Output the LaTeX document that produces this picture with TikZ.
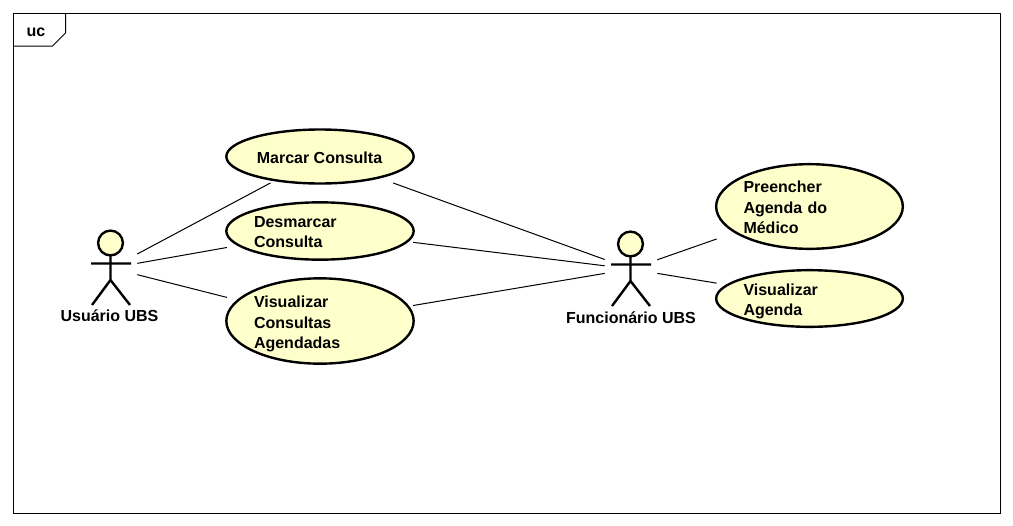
\documentclass[tikz,border=0pt]{standalone}
\usepackage{fontspec}
\setmainfont{Liberation Sans}
\usetikzlibrary{fit,shapes.geometric}
\definecolor{ucfill}{RGB}{255,255,204}
\tikzset{
  x=0.75pt,y=-0.75pt,
  labeltext/.style={font=\bfseries\fontsize{12pt}{15.4pt}\selectfont,inner sep=0pt},
  casetext/.style={labeltext,align=left,text width=99pt},
  usecase/.style={ellipse,draw=black,fill=ucfill,line width=1.8pt,inner sep=0pt},
  hitbox/.style={rectangle,draw=none,fill=none,inner sep=-1.5pt},
  actorbox/.style={rectangle,draw=none,fill=none,inner sep=0pt,minimum width=39pt,minimum height=57pt},
  assoc/.style={draw=black,line width=0.75pt},
  frameline/.style={draw=black,line width=0.75pt},
  pics/actorfig/.style={code={
    \draw[line width=1.8pt,fill=ucfill] (-0.5,-25) circle[radius=9.3pt];
    \draw[line width=1.8pt]
      (-0.5,-13) -- (-0.5,12)
      (-20,-4.5) -- (20,-4.5)
      (-19,37) -- (-0.5,12) -- (19,37);
  }}
}
\begin{document}
\begin{tikzpicture}
\useasboundingbox (0,0) rectangle (1013,525);
\fill[white] (0,0) rectangle (1013,525);
% frame
\draw[frameline] (13.5,13.5) rectangle (1000.5,513);
\draw[frameline] (13.5,46) -- (52.5,46) -- (65.5,33) -- (65.5,13.5);
\node[labeltext] (uc) at (36,32) {uc};
% use cases
\node[usecase,minimum width=140.5pt,minimum height=40.5pt] (mE) at (320,156.5) {};
\node[usecase,minimum width=140.5pt,minimum height=43pt] (dE) at (320,231) {};
\node[usecase,minimum width=140.5pt,minimum height=64pt] (vE) at (320,321) {};
\node[usecase,minimum width=140pt,minimum height=63.5pt] (pE) at (809.5,206.5) {};
\node[usecase,minimum width=140pt,minimum height=42.5pt] (aE) at (809.5,298.5) {};
\node[labeltext] (mT) at (319.5,157.5) {Marcar Consulta};
\node[casetext] (dT) at (320,232) {Desmarcar\\Consulta};
\node[casetext] (vT) at (320,324) {Visualizar\\Consultas\\Agendadas};
\node[casetext] (pT) at (809.5,207.5) {Preencher\\Agenda do\\Médico};
\node[casetext] (aT) at (809.5,301.5) {Visualizar\\Agenda};
\node[hitbox,fit=(mE)] (m) {};
\node[hitbox,fit=(dE)] (d) {};
\node[hitbox,fit=(vE)] (v) {};
\node[hitbox,fit=(pE)] (p) {};
\node[hitbox,fit=(aE)] (a) {};
% actors
\node[actorbox] (ua) at (111,268) {};
\node[actorbox] (fa) at (631,269) {};
\pic at (ua) {actorfig};
\pic at (fa) {actorfig};
\node[labeltext] (ual) at (109.5,316) {Usuário UBS};
\node[labeltext] (fal) at (631,318) {Funcionário UBS};
% associations
\draw[assoc] (ua) -- (m);
\draw[assoc] (ua) -- (d);
\draw[assoc] (ua) -- (v);
\draw[assoc] (fa) -- (m);
\draw[assoc] (fa) -- (d);
\draw[assoc] (fa) -- (v);
\draw[assoc] (fa) -- (p);
\draw[assoc] (fa) -- (a);
\end{tikzpicture}
\end{document}
